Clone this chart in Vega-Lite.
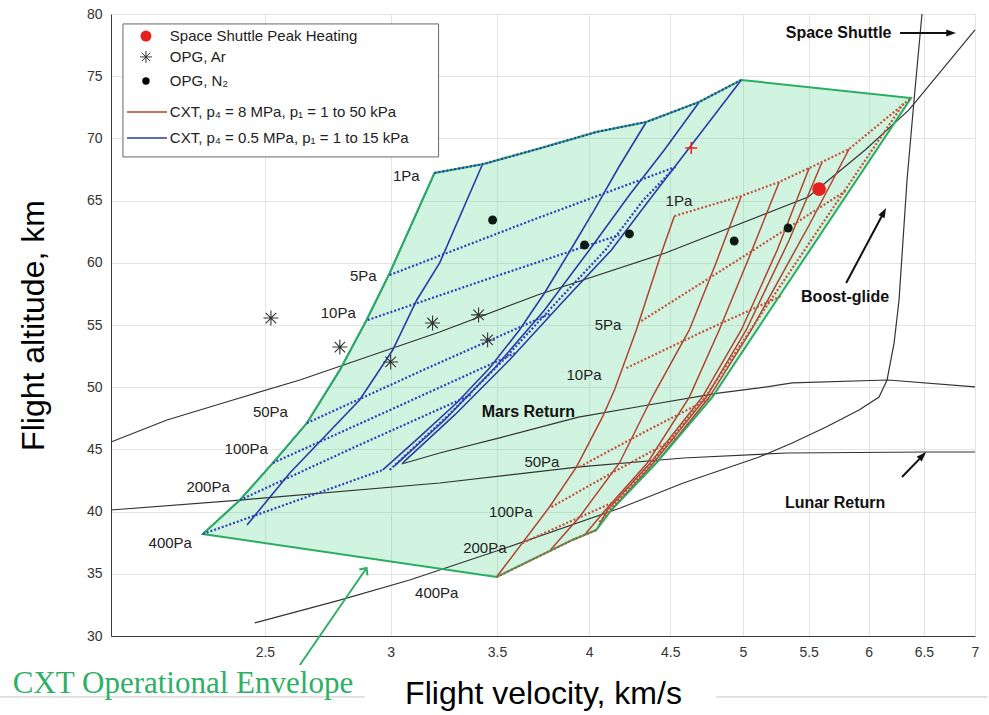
{
"$schema":"https://vega.github.io/schema/vega-lite/v6.json",
"width":864,"height":622,
"autosize":{"type":"none"},
"padding":{"left":111,"top":14,"right":14,"bottom":79},
"background":"#ffffff",
"config":{"view":{"stroke":null},"font":"Liberation Sans"},
"datasets":{
"env":[{"i":1,"v":2.285,"h":38.2},{"i":2,"v":2.411,"h":40.93},{"i":3,"v":2.529,"h":43.91},{"i":4,"v":2.657,"h":47.12},{"i":5,"v":2.787,"h":51.38},{"i":6,"v":2.897,"h":55.4},{"i":7,"v":2.996,"h":59.18},{"i":8,"v":3.197,"h":67.22},{"i":9,"v":3.433,"h":67.94},{"i":10,"v":3.75,"h":69.31},{"i":11,"v":4.043,"h":70.52},{"i":12,"v":4.346,"h":71.32},{"i":13,"v":4.693,"h":72.93},{"i":14,"v":4.988,"h":74.7},{"i":15,"v":6.38,"h":73.25},{"i":16,"v":4.783,"h":49.21},{"i":17,"v":4.41,"h":43.91},{"i":18,"v":4.132,"h":40.13},{"i":19,"v":4.043,"h":38.52},{"i":20,"v":3.905,"h":37.72},{"i":21,"v":3.498,"h":34.74}],
"traj":[
{"s":"shuttle","i":1,"v":2.0,"h":45.6},{"s":"shuttle","i":2,"v":2.169,"h":47.36},{"s":"shuttle","i":3,"v":2.387,"h":48.97},{"s":"shuttle","i":4,"v":2.63,"h":50.58},{"s":"shuttle","i":5,"v":3.221,"h":54.44},{"s":"shuttle","i":6,"v":3.712,"h":57.41},{"s":"shuttle","i":7,"v":4.468,"h":60.79},{"s":"shuttle","i":8,"v":5.496,"h":65.29},{"s":"shuttle","i":9,"v":5.969,"h":69.07},{"s":"shuttle","i":10,"v":6.361,"h":72.29},{"s":"shuttle","i":11,"v":7.0,"h":78.72},
{"s":"boost","i":1,"v":2.464,"h":31.05},{"s":"boost","i":2,"v":2.787,"h":32.89},{"s":"boost","i":3,"v":3.084,"h":34.5},{"s":"boost","i":4,"v":3.513,"h":36.91},{"s":"boost","i":5,"v":4.186,"h":40.29},{"s":"boost","i":6,"v":4.586,"h":42.3},{"s":"boost","i":7,"v":5.119,"h":44.39},{"s":"boost","i":8,"v":5.37,"h":45.52},{"s":"boost","i":9,"v":5.641,"h":46.8},{"s":"boost","i":10,"v":5.917,"h":48.17},{"s":"boost","i":11,"v":6.091,"h":49.21},{"s":"boost","i":12,"v":6.162,"h":50.58},{"s":"boost","i":13,"v":6.225,"h":53.55},{"s":"boost","i":14,"v":6.27,"h":57.01},{"s":"boost","i":15,"v":6.343,"h":66.66},{"s":"boost","i":16,"v":6.408,"h":73.09},{"s":"boost","i":17,"v":6.482,"h":80.0},
{"s":"mars","i":1,"v":3.048,"h":43.83},{"s":"mars","i":2,"v":3.221,"h":44.71},{"s":"mars","i":3,"v":3.513,"h":45.92},{"s":"mars","i":4,"v":3.939,"h":47.6},{"s":"mars","i":5,"v":4.359,"h":48.57},{"s":"mars","i":6,"v":4.824,"h":49.53},{"s":"mars","i":7,"v":5.119,"h":49.94},{"s":"mars","i":8,"v":5.37,"h":50.34},{"s":"mars","i":9,"v":6.171,"h":50.58},{"s":"mars","i":10,"v":7.0,"h":50.02},
{"s":"lunar","i":1,"v":2.0,"h":40.13},{"s":"lunar","i":2,"v":2.411,"h":40.93},{"s":"lunar","i":3,"v":3.221,"h":42.3},{"s":"lunar","i":4,"v":3.945,"h":43.59},{"s":"lunar","i":5,"v":4.586,"h":44.31},{"s":"lunar","i":6,"v":5.332,"h":44.71},{"s":"lunar","i":7,"v":6.52,"h":44.79},{"s":"lunar","i":8,"v":7.0,"h":44.79}],
"bsolid":[
{"s":"SL","i":1,"v":2.285,"h":38.2},{"s":"SL","i":2,"v":2.411,"h":40.93},{"s":"SL","i":3,"v":2.529,"h":43.91},{"s":"SL","i":4,"v":2.657,"h":47.12},{"s":"SL","i":5,"v":2.787,"h":51.38},{"s":"SL","i":6,"v":2.897,"h":55.4},{"s":"SL","i":7,"v":2.996,"h":59.18},{"s":"SL","i":8,"v":3.197,"h":67.22},
{"s":"Sa","i":1,"v":2.436,"h":38.92},{"s":"Sa","i":2,"v":2.592,"h":43.1},{"s":"Sa","i":3,"v":2.868,"h":48.97},{"s":"Sa","i":4,"v":3.009,"h":52.99},{"s":"Sa","i":5,"v":3.116,"h":57.01},{"s":"Sa","i":6,"v":3.221,"h":59.99},{"s":"Sa","i":7,"v":3.428,"h":67.94},
{"s":"Sb","i":1,"v":2.966,"h":43.35},{"s":"Sb","i":2,"v":3.129,"h":46.0},{"s":"Sb","i":3,"v":3.301,"h":48.73},{"s":"Sb","i":4,"v":3.463,"h":51.54},{"s":"Sb","i":5,"v":3.616,"h":54.6},{"s":"Sb","i":6,"v":3.75,"h":57.57},{"s":"Sb","i":7,"v":3.894,"h":61.03},{"s":"Sb","i":8,"v":4.031,"h":64.25},{"s":"Sb","i":9,"v":4.18,"h":67.78},{"s":"Sb","i":10,"v":4.346,"h":71.32},
{"s":"Sc","i":1,"v":3.017,"h":43.67},{"s":"Sc","i":2,"v":3.244,"h":47.36},{"s":"Sc","i":3,"v":3.488,"h":51.54},{"s":"Sc","i":4,"v":3.75,"h":56.21},{"s":"Sc","i":5,"v":4.002,"h":61.03},{"s":"Sc","i":6,"v":4.241,"h":65.45},{"s":"Sc","i":7,"v":4.461,"h":69.07},{"s":"Sc","i":8,"v":4.693,"h":72.93},
{"s":"Sd","i":1,"v":3.053,"h":43.91},{"s":"Sd","i":2,"v":3.292,"h":47.77},{"s":"Sd","i":3,"v":3.564,"h":52.19},{"s":"Sd","i":4,"v":3.86,"h":57.01},{"s":"Sd","i":5,"v":4.132,"h":61.03},{"s":"Sd","i":6,"v":4.365,"h":65.05},{"s":"Sd","i":7,"v":4.579,"h":68.51},{"s":"Sd","i":8,"v":4.988,"h":74.7}],
"bdot":[
{"s":"p1","i":1,"v":3.197,"h":67.22},{"s":"p1","i":2,"v":3.433,"h":67.94},{"s":"p1","i":3,"v":3.75,"h":69.31},{"s":"p1","i":4,"v":4.043,"h":70.52},{"s":"p1","i":5,"v":4.346,"h":71.32},{"s":"p1","i":6,"v":4.693,"h":72.93},{"s":"p1","i":7,"v":4.988,"h":74.7},
{"s":"p5","i":1,"v":2.996,"h":59.02},{"s":"p5","i":2,"v":3.685,"h":63.44},{"s":"p5","i":3,"v":4.533,"h":67.7},
{"s":"p10","i":1,"v":2.902,"h":55.4},{"s":"p10","i":2,"v":3.483,"h":58.86},{"s":"p10","i":3,"v":4.18,"h":62.24},
{"s":"p50","i":1,"v":2.657,"h":47.12},{"s":"p50","i":2,"v":3.165,"h":51.54},{"s":"p50","i":3,"v":3.777,"h":55.89},
{"s":"p100","i":1,"v":2.529,"h":43.91},{"s":"p100","i":2,"v":3.017,"h":48.33},{"s":"p100","i":3,"v":3.595,"h":52.75},
{"s":"p200","i":1,"v":2.411,"h":40.93},{"s":"p200","i":2,"v":2.848,"h":45.19},{"s":"p200","i":3,"v":3.369,"h":49.37},
{"s":"p400","i":1,"v":2.285,"h":38.2},{"s":"p400","i":2,"v":2.603,"h":40.77},{"s":"p400","i":3,"v":2.966,"h":43.35},
{"s":"side","i":1,"v":2.996,"h":43.35},{"s":"side","i":2,"v":3.263,"h":47.77},{"s":"side","i":3,"v":3.533,"h":52.19},{"s":"side","i":4,"v":3.827,"h":57.01},{"s":"side","i":5,"v":4.096,"h":61.03},{"s":"side","i":6,"v":4.328,"h":65.05},{"s":"side","i":7,"v":4.533,"h":67.7}],
"rsolid":[
{"s":"R1","i":1,"v":4.527,"h":63.76},{"s":"R1","i":2,"v":4.449,"h":61.03},{"s":"R1","i":3,"v":4.284,"h":54.6},{"s":"R1","i":4,"v":4.15,"h":49.78},{"s":"R1","i":5,"v":4.079,"h":47.61},{"s":"R1","i":6,"v":3.928,"h":43.59},{"s":"R1","i":7,"v":3.777,"h":40.37},{"s":"R1","i":8,"v":3.498,"h":34.74},
{"s":"R2","i":1,"v":4.988,"h":65.37},{"s":"R2","i":2,"v":4.803,"h":59.82},{"s":"R2","i":3,"v":4.626,"h":54.6},{"s":"R2","i":4,"v":4.384,"h":49.21},{"s":"R2","i":5,"v":4.18,"h":43.91},{"s":"R2","i":6,"v":3.945,"h":39.57},{"s":"R2","i":7,"v":3.782,"h":36.91},
{"s":"R3","i":1,"v":5.27,"h":66.5},{"s":"R3","i":2,"v":5.046,"h":60.47},{"s":"R3","i":3,"v":4.831,"h":54.6},{"s":"R3","i":4,"v":4.626,"h":49.21},{"s":"R3","i":5,"v":4.353,"h":43.91},{"s":"R3","i":6,"v":4.096,"h":40.13},{"s":"R3","i":7,"v":3.974,"h":38.12},
{"s":"R4","i":1,"v":5.504,"h":67.62},{"s":"R4","i":2,"v":5.255,"h":61.03},{"s":"R4","i":3,"v":4.988,"h":54.6},{"s":"R4","i":4,"v":4.714,"h":49.21},{"s":"R4","i":5,"v":4.371,"h":43.91},{"s":"R4","i":6,"v":4.108,"h":40.13},{"s":"R4","i":7,"v":4.043,"h":38.52},
{"s":"R5","i":1,"v":5.608,"h":68.1},{"s":"R5","i":2,"v":5.347,"h":61.83},{"s":"R5","i":3,"v":5.024,"h":54.6},{"s":"R5","i":4,"v":4.741,"h":49.21},{"s":"R5","i":5,"v":4.391,"h":43.91},{"s":"R5","i":6,"v":4.132,"h":40.13},
{"s":"R6","i":1,"v":5.832,"h":69.15},{"s":"R6","i":2,"v":5.504,"h":63.04},{"s":"R6","i":3,"v":5.061,"h":54.6},{"s":"R6","i":4,"v":4.762,"h":49.21},{"s":"R6","i":5,"v":4.41,"h":43.91}],
"rdot":[
{"s":"q1","i":1,"v":4.527,"h":63.76},{"s":"q1","i":2,"v":4.988,"h":65.37},{"s":"q1","i":3,"v":5.27,"h":66.5},{"s":"q1","i":4,"v":5.504,"h":67.62},{"s":"q1","i":5,"v":5.608,"h":68.1},{"s":"q1","i":6,"v":5.832,"h":69.15},{"s":"q1","i":7,"v":6.38,"h":73.25},
{"s":"q5","i":1,"v":4.315,"h":55.32},{"s":"q5","i":2,"v":5.01,"h":60.55},{"s":"q5","i":3,"v":5.815,"h":65.85},
{"s":"q10","i":1,"v":4.223,"h":51.54},{"s":"q10","i":2,"v":4.727,"h":54.52},{"s":"q10","i":3,"v":5.285,"h":57.33},
{"s":"q50","i":1,"v":3.945,"h":43.59},{"s":"q50","i":2,"v":4.334,"h":46.4},{"s":"q50","i":3,"v":4.769,"h":49.13},
{"s":"q100","i":1,"v":3.788,"h":40.37},{"s":"q100","i":2,"v":4.144,"h":43.18},{"s":"q100","i":3,"v":4.54,"h":45.92},
{"s":"q200","i":1,"v":3.632,"h":37.48},{"s":"q200","i":2,"v":4.186,"h":41.01},
{"s":"q400","i":1,"v":3.498,"h":34.74},{"s":"q400","i":2,"v":3.905,"h":37.72},{"s":"q400","i":3,"v":4.043,"h":38.52},
{"s":"edge","i":1,"v":4.061,"h":39.16},{"s":"edge","i":2,"v":4.378,"h":43.91},{"s":"edge","i":3,"v":4.734,"h":49.21},{"s":"edge","i":4,"v":6.315,"h":72.85}]
},
"encoding":{
"x":{"field":"v","type":"quantitative","scale":{"type":"log","domain":[2,7],"nice":false},
"axis":{"values":[2.5,3,3.5,4,4.5,5,5.5,6,6.5,7],"format":"~g","grid":true,"gridColor":"#e4e4e4","gridWidth":1,"domainColor":"#3a3a3a","domainWidth":1,"ticks":false,"tickSize":0,"labelFontSize":14,"labelColor":"#333333","labelPadding":9,"labelFlush":false,"labelOverlap":false,"title":"Flight velocity, km/s","titleFontSize":32,"titleFontWeight":"normal","titleColor":"#000000","titleY":67,"titleBaseline":"alphabetic"}},
"y":{"field":"h","type":"quantitative","scale":{"domain":[30,80],"nice":false,"zero":false},
"axis":{"values":[30,35,40,45,50,55,60,65,70,75,80],"grid":true,"gridColor":"#e4e4e4","gridWidth":1,"domainColor":"#3a3a3a","domainWidth":1,"ticks":false,"tickSize":0,"labelFontSize":14,"labelColor":"#333333","labelPadding":9,"labelOverlap":false,"title":"Flight altitude, km","titleFontSize":32,"titleFontWeight":"normal","titleColor":"#000000","titleX":-68,"titleY":311,"titleAngle":-90,"titleAlign":"center","titleBaseline":"alphabetic"}}
},
"layer":[
{"data":{"name":"env"},"mark":{"type":"line","interpolate":"linear-closed","fill":"#2ecc71","fillOpacity":0.22,"strokeWidth":0,"strokeOpacity":0},"encoding":{"order":{"field":"i","type":"quantitative"}}},
{"data":{"name":"traj"},"mark":{"type":"line","color":"#333333","strokeWidth":1.2},"encoding":{"detail":{"field":"s","type":"nominal"},"order":{"field":"i","type":"quantitative"}}},
{"data":{"name":"bsolid"},"mark":{"type":"line","color":"#2b3aa6","strokeWidth":1.6},"encoding":{"detail":{"field":"s","type":"nominal"},"order":{"field":"i","type":"quantitative"}}},
{"data":{"name":"rsolid"},"mark":{"type":"line","color":"#b0432e","strokeWidth":1.5},"encoding":{"detail":{"field":"s","type":"nominal"},"order":{"field":"i","type":"quantitative"}}},
{"data":{"name":"env"},"mark":{"type":"line","interpolate":"linear-closed","color":"#27ae60","strokeWidth":2},"encoding":{"order":{"field":"i","type":"quantitative"}}},
{"data":{"name":"bdot"},"mark":{"type":"line","color":"#2a3fbf","strokeWidth":2.2,"strokeDash":[2,2]},"encoding":{"detail":{"field":"s","type":"nominal"},"order":{"field":"i","type":"quantitative"}}},
{"data":{"name":"rdot"},"mark":{"type":"line","color":"#c4503a","strokeWidth":2.2,"strokeDash":[2,2]},"encoding":{"detail":{"field":"s","type":"nominal"},"order":{"field":"i","type":"quantitative"}}},
{"data":{"values":[{"v":2.522,"h":55.56},{"v":2.787,"h":53.23},{"v":3.0,"h":52.03},{"v":3.188,"h":55.16},{"v":3.408,"h":55.81},{"v":3.453,"h":53.8}]},
 "mark":{"type":"point","shape":"M0,-1L0,1M-1,0L1,0M-0.7,-0.7L0.7,0.7M-0.7,0.7L0.7,-0.7","filled":false,"color":"#333333","strokeWidth":1.1,"size":225,"opacity":1}},
{"data":{"values":[{"v":3.478,"h":63.44},{"v":3.974,"h":61.43},{"v":4.241,"h":62.32},{"v":4.937,"h":61.75},{"v":5.339,"h":62.8}]},
 "mark":{"type":"circle","color":"#0d1a12","size":80,"opacity":1}},
{"data":{"values":[{"v":5.584,"h":65.93}]},"mark":{"type":"circle","color":"#e5211d","size":190,"opacity":1}},
{"data":{"values":[{"v":4.639,"h":69.23}]},"mark":{"type":"point","shape":"M-1,0L1,0M0,-1L0,1","filled":false,"color":"#ff1a1a","strokeWidth":1.6,"size":144,"opacity":1}},
{"data":{"values":[{"t":"1Pa","v":3.129,"h":66.98},{"t":"5Pa","v":2.94,"h":58.94},{"t":"10Pa","v":2.852,"h":55.97},{"t":"50Pa","v":2.585,"h":48.01},{"t":"100Pa","v":2.511,"h":45.03},{"t":"200Pa","v":2.376,"h":41.98},{"t":"400Pa","v":2.249,"h":37.48},
{"t":"1Pa","v":4.646,"h":64.97},{"t":"5Pa","v":4.192,"h":55.0},{"t":"10Pa","v":4.073,"h":50.98},{"t":"50Pa","v":3.832,"h":43.99},{"t":"100Pa","v":3.685,"h":39.97},{"t":"200Pa","v":3.549,"h":37.07},{"t":"400Pa","v":3.31,"h":33.46}]},
 "mark":{"type":"text","align":"right","baseline":"middle","fontSize":15,"color":"#222222"},"encoding":{"text":{"field":"t","type":"nominal"}}},
{"data":{"values":[{"t":"Space Shuttle","v":5.744,"h":78.48},{"t":"Boost-glide","v":5.798,"h":57.25},{"t":"Mars Return","v":3.663,"h":48.01},{"t":"Lunar Return","v":5.715,"h":40.69}]},
 "mark":{"type":"text","align":"center","baseline":"middle","fontSize":16,"fontWeight":"bold","color":"#111111"},"encoding":{"text":{"field":"t","type":"nominal"}}},
{"data":{"values":[{"s":"ss","i":1,"v":6.279,"h":78.48},{"s":"ss","i":2,"v":6.78,"h":78.48},{"s":"bg","i":1,"v":5.807,"h":58.38},{"s":"bg","i":2,"v":6.13,"h":64.0},{"s":"lr","i":1,"v":6.297,"h":42.78},{"s":"lr","i":2,"v":6.505,"h":44.64}]},
 "mark":{"type":"line","color":"#111111","strokeWidth":2},"encoding":{"detail":{"field":"s","type":"nominal"},"order":{"field":"i","type":"quantitative"}}},
{"data":{"values":[{"v":6.81,"h":78.48}]},"mark":{"type":"point","shape":"M0,0L-0.5,1.4L0.5,1.4Z","filled":true,"color":"#111111","size":196,"opacity":1,"angle":90}},
{"data":{"values":[{"v":6.153,"h":64.41}]},"mark":{"type":"point","shape":"M0,0L-0.5,1.4L0.5,1.4Z","filled":true,"color":"#111111","size":196,"opacity":1,"angle":28}},
{"data":{"values":[{"v":6.52,"h":44.79}]},"mark":{"type":"point","shape":"M0,0L-0.5,1.4L0.5,1.4Z","filled":true,"color":"#111111","size":196,"opacity":1,"angle":44}},
{"data":{"values":[{"v":2.035,"v2":3.216,"h":68.51,"h2":79.2}]},"mark":{"type":"rect","fill":"#ffffff","stroke":"#666666","strokeWidth":1},"encoding":{"x2":{"field":"v2"},"y2":{"field":"h2"}}},
{"data":{"values":[{"v":2.104,"h":78.23}]},"mark":{"type":"circle","color":"#e5211d","size":120,"opacity":1}},
{"data":{"values":[{"v":2.104,"h":76.55}]},"mark":{"type":"point","shape":"M0,-1L0,1M-1,0L1,0M-0.7,-0.7L0.7,0.7M-0.7,0.7L0.7,-0.7","filled":false,"color":"#333333","strokeWidth":1,"size":144,"opacity":1}},
{"data":{"values":[{"v":2.104,"h":74.62}]},"mark":{"type":"circle","color":"#000000","size":55,"opacity":1}},
{"data":{"values":[{"s":"r","i":1,"v":2.047,"h":72.12},{"s":"r","i":2,"v":2.169,"h":72.12},{"s":"b","i":1,"v":2.047,"h":70.03},{"s":"b","i":2,"v":2.169,"h":70.03}]},
 "mark":{"type":"line","strokeWidth":1.5},"encoding":{"color":{"field":"s","type":"nominal","scale":{"domain":["r","b"],"range":["#b0432e","#2b3aa6"]},"legend":null},"order":{"field":"i","type":"quantitative"}}},
{"data":{"values":[{"t":"Space Shuttle Peak Heating","v":2.178,"h":78.23},{"t":"OPG, Ar","v":2.178,"h":76.55},{"t":"OPG, N₂","v":2.178,"h":74.62},{"t":"CXT, p₄ = 8 MPa, p₁ = 1 to 50 kPa","v":2.178,"h":72.12},{"t":"CXT, p₄ = 0.5 MPa, p₁ = 1 to 15 kPa","v":2.178,"h":70.03}]},
 "mark":{"type":"text","align":"left","baseline":"middle","fontSize":15,"color":"#222222"},"encoding":{"text":{"field":"t","type":"nominal"}}},
{"data":{"values":[{"v":1.703,"v2":2.889,"h":25.1},{"v":4.81,"v2":7.13,"h":25.1}]},"mark":{"type":"rule","color":"#c4c4c4","strokeWidth":1},"encoding":{"x2":{"field":"v2"}}},
{"data":{"values":[{"t":"CXT Operational Envelope","v":2.22,"h":26.14}]},"mark":{"type":"text","align":"center","baseline":"middle","fontSize":31,"font":"Liberation Serif","color":"#2eaf66"},"encoding":{"text":{"field":"t","type":"nominal"}}},
{"data":{"values":[{"i":1,"v":2.63,"h":27.67},{"i":2,"v":2.897,"h":35.47}]},"mark":{"type":"line","color":"#2eaf66","strokeWidth":2},"encoding":{"order":{"field":"i","type":"quantitative"}}},
{"data":{"values":[{"v":2.897,"h":35.47}]},"mark":{"type":"point","shape":"M-1,1.1L0,0L1,1.1","filled":false,"color":"#2eaf66","strokeWidth":2,"size":100,"opacity":1,"angle":35}}
]
}
